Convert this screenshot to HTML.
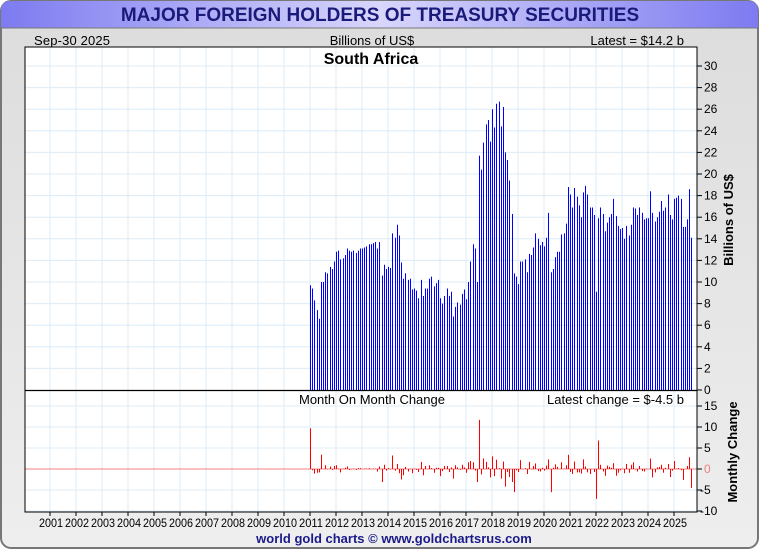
<!DOCTYPE html>
<html><head><meta charset="utf-8"><style>
body{margin:0;background:#fff;}
svg text{font-family:"Liberation Sans",sans-serif;}
</style></head><body>
<svg id="chart" width="760" height="550" viewBox="0 0 760 550">
<defs>
<linearGradient id="hdr" x1="0" x2="1" y1="0" y2="0">
<stop offset="0" stop-color="#7d7bf0"/><stop offset="0.5" stop-color="#d8d6fb"/><stop offset="1" stop-color="#7d7bf0"/>
</linearGradient>
<linearGradient id="bg" x1="0" x2="0" y1="0" y2="1">
<stop offset="0" stop-color="#dcdcdc"/><stop offset="1" stop-color="#eeeeee"/>
</linearGradient>
</defs>
<rect x="1" y="1" width="757" height="547" rx="10" fill="url(#bg)" stroke="#777" stroke-width="2"/>
<path d="M1 11 Q1 1 11 1 L748 1 Q758 1 758 11 L758 28 L1 28 Z" fill="url(#hdr)"/>
<line x1="1" y1="28" x2="758" y2="28" stroke="#777"/>
<text x="380" y="21" text-anchor="middle" font-size="19" font-weight="bold" fill="#1a1a7a">MAJOR FOREIGN HOLDERS OF TREASURY SECURITIES</text>
<text x="34" y="45" font-size="13" textLength="76" fill="#000">Sep-30  2025</text>
<text x="372" y="45" text-anchor="middle" font-size="13" fill="#000">Billions of US$</text>
<text x="684" y="45" text-anchor="end" font-size="13" fill="#000">Latest = $14.2 b</text>
<rect x="25" y="47" width="672" height="465" fill="#fff"/>
<g id="grid"></g>
<g id="bars"></g>
<g id="chg"></g>
<g id="axes"></g>
<rect x="25" y="47" width="672" height="465" fill="none" stroke="#000" stroke-width="1"/>
<line x1="25" y1="390.5" x2="697" y2="390.5" stroke="#000" stroke-width="1.2"/>
<text x="371" y="64" text-anchor="middle" font-size="16" font-weight="bold">South Africa</text>
<text x="299" y="404" font-size="13">Month On Month Change</text>
<text x="684" y="404" text-anchor="end" font-size="13">Latest change = $-4.5 b</text>
<text transform="translate(733,220) rotate(-90)" text-anchor="middle" font-size="13" font-weight="bold">Billions of US$</text>
<text transform="translate(737,452) rotate(-90)" text-anchor="middle" font-size="13" font-weight="bold">Monthly Change</text>
<text x="394" y="543" text-anchor="middle" font-size="13" font-weight="bold" fill="#1a1a8a">world gold charts © www.goldchartsrus.com</text>
</svg>
<script>
const startYear = 2011;
const holdings = [9.7,9.4,8.3,7.4,6.6,10.0,10.0,10.9,10.8,11.4,11.2,11.9,12.8,12.9,12.1,12.2,12.5,13.1,12.9,12.8,12.9,12.7,12.9,13.1,13.1,13.2,13.3,13.5,13.5,13.6,13.7,13.1,13.7,10.6,11.6,11.2,11.4,11.3,14.5,14.1,15.3,14.3,11.8,10.3,10.8,10.2,10.3,9.3,9.4,9.2,8.5,10.2,8.7,9.4,9.4,10.3,10.5,9.6,9.9,10.2,8.5,8.0,8.7,9.4,8.7,9.1,6.8,7.7,8.1,7.9,8.9,9.3,8.4,10.0,11.9,13.5,13.1,10.0,21.7,20.4,22.9,24.6,25.0,23.0,26.0,24.3,26.5,26.7,24.4,26.2,22.0,21.3,19.4,16.3,10.8,10.5,9.8,11.9,11.9,12.1,10.9,12.6,12.5,13.2,14.5,14.0,13.4,13.7,13.3,14.1,16.4,10.9,11.2,12.3,12.8,12.8,14.4,14.5,15.4,18.8,18.1,16.9,18.7,17.9,17.1,16.0,18.3,18.9,18.1,16.9,16.9,16.2,9.1,15.9,16.9,16.3,14.7,15.5,16.0,16.3,17.7,16.1,15.2,14.9,15.0,14.0,15.2,14.3,15.3,16.9,16.8,16.2,16.9,16.4,15.8,15.9,15.9,18.4,16.4,15.6,16.0,16.5,17.5,16.6,16.9,18.1,16.2,15.8,17.7,17.8,18.0,17.7,15.1,15.1,15.8,18.6,14.1];
const yearLabels = [2001,2002,2003,2004,2005,2006,2007,2008,2009,2010,2011,2012,2013,2014,2015,2016,2017,2018,2019,2020,2021,2022,2023,2024,2025];
const topTicks = [0,2,4,6,8,10,12,14,16,18,20,22,24,26,28,30];
const lowTicks = [15,10,5,0,-5,-10];

const NS='http://www.w3.org/2000/svg';
function mk(tag,attrs,parent){const e=document.createElementNS(NS,tag);for(const k in attrs)e.setAttribute(k,attrs[k]);parent.appendChild(e);return e;}
const xT = t => 310 + (t-2011)*26;
const yTop = v => 390 - v*10.8;
const yLow = v => 469 - v*4.2;
const grid=document.getElementById('grid'),bars=document.getElementById('bars'),chg=document.getElementById('chg'),axes=document.getElementById('axes');

yearLabels.forEach(y=>{
  const x=xT(y);
  mk('line',{x1:x,y1:47,x2:x,y2:512,stroke:'#dcecf8','stroke-width':1},grid);
  const t=mk('text',{x:x+1,y:527,'text-anchor':'middle','font-size':12,textLength:24,lengthAdjust:'spacingAndGlyphs'},axes);
  t.textContent=y;
  
  
  mk('line',{x1:x,y1:512,x2:x,y2:516,stroke:'#000'},axes);
});
topTicks.forEach(v=>{
  const y=yTop(v);
  if(v>0) mk('line',{x1:25,y1:y,x2:697,y2:y,stroke:'#dcecf8','stroke-width':1},grid);
  mk('line',{x1:697,y1:y,x2:702,y2:y,stroke:'#000'},axes);
  const t=mk('text',{x:704,y:y+4,'font-size':12},axes);
  t.textContent=v;
  
  
});
lowTicks.forEach(v=>{
  const y=yLow(v);
  mk('line',{x1:25,y1:y,x2:697,y2:y,stroke:v===0?'#f08080':'#dcecf8','stroke-width':1},grid);
  mk('line',{x1:697,y1:y,x2:702,y2:y,stroke:'#000'},axes);
  const t=mk('text',{x:v<0?700:704,y:y+4,'font-size':12,fill:v===0?'#f08080':'#000'},axes);
  t.textContent=v;
  
  
});
holdings.forEach((v,i)=>{
  const x=Math.round(xT(startYear+i/12))+0.5;
  const b=mk('line',{x1:x,y1:yTop(0),x2:x,y2:yTop(v),stroke:'#0000ff','stroke-width':1},bars);
  
  
  const d=v-(i>0?holdings[i-1]:0);
  const c=mk('line',{x1:x,y1:yLow(0),x2:x,y2:yLow(d),stroke:'#ff0000','stroke-width':1},chg);
  
  
});
</script>
</body></html>
